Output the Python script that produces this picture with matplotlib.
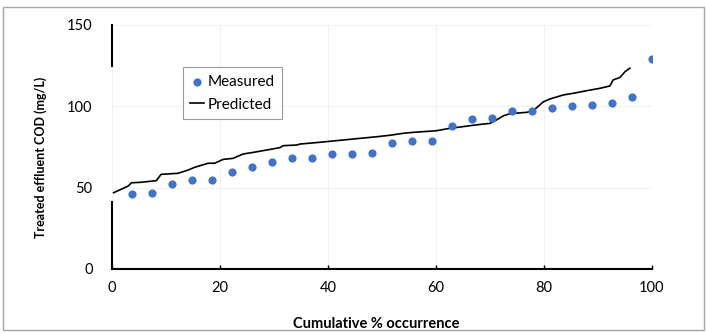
import matplotlib.pyplot as plt
from matplotlib.patches import Rectangle

# gemeten waarden (27 punten, gelijk verdeeld over 0-100 %)
measured_pct = [3.7, 7.4, 11.1, 14.8, 18.5, 22.2, 25.9, 29.6, 33.3, 37.0,
                40.7, 44.4, 48.1, 51.9, 55.6, 59.3, 63.0, 66.7, 70.4, 74.1,
                77.8, 81.5, 85.2, 88.9, 92.6, 96.3, 100.0]
measured_cod = [46, 47, 52.5, 54.5, 54.5, 59.5, 62.5, 65.5, 68.5, 68.5,
                70.5, 70.5, 71.5, 77.5, 78.5, 78.5, 88, 92, 93, 97,
                97, 99, 100, 101, 102, 106, 129]

pred_pct = [0.3, 1.7, 3.0, 3.6, 5.4, 8.2, 9.1, 12.2, 14.1, 15.3,
            17.8, 19.0, 20.6, 22.4, 24.3, 26.2, 28.6, 31.1, 31.7, 34.2,
            34.8, 38.5, 42.2, 45.9, 49.0, 51.5, 53.9, 55.8, 60.1, 62.6,
            65.0, 66.3, 68.8, 70.0, 71.2, 72.5, 73.7, 76.8, 78.0, 79.9,
            81.1, 83.6, 85.4, 87.9, 90.4, 92.2, 92.8, 94.1, 95.0, 95.9]
pred_cod = [46.9, 49.0, 51.0, 53.0, 53.3, 54.3, 58.2, 58.8, 60.8, 62.5,
            65.0, 65.0, 67.4, 68.0, 70.7, 71.7, 73.1, 74.6, 75.8, 76.2,
            76.8, 77.9, 79.1, 80.3, 81.3, 82.2, 83.4, 84.0, 85.0, 86.5,
            87.5, 88.1, 89.1, 89.5, 91.6, 94.2, 95.5, 96.3, 97.3, 102.8,
            104.5, 107.0, 108.0, 109.6, 111.1, 112.5, 116.2, 117.8, 121.3, 123.4]

xticks = [0, 20, 40, 60, 80, 100]
yticks = [0, 50, 100, 150]

plt.rcParams['font.family'] = ['Lato', 'DejaVu Sans']

fig = plt.figure(figsize=(7.07, 3.33), dpi=100)
ax = fig.add_axes([0.1584, 0.1922, 0.7638, 0.7328])

# rand rond de hele figuur
fig.patches.append(Rectangle((0.004, 0.008), 0.992, 0.972, transform=fig.transFigure,
                             fill=False, edgecolor='#a6a6a6', lw=1))

ax.scatter(measured_pct, measured_cod, s=24, color='#4472C4', zorder=3, label='Measured')
ax.plot(pred_pct, pred_cod, color='black', lw=1.2, zorder=2, label='Predicted')

ax.set_xlim(0, 100)
ax.set_ylim(0, 150)
ax.set_xticks(xticks)
ax.set_yticks(yticks)
ax.grid(True, color='#efefef', lw=0.6)
ax.set_axisbelow(True)

for s in ['top', 'right', 'left']:
    ax.spines[s].set_visible(False)
ax.spines['bottom'].set_linewidth(1.5)
# linker as is maar deels zichtbaar in het origineel
ax.axvline(0, ymin=0, ymax=41 / 150, color='black', lw=1.5, clip_on=False)
ax.axvline(0, ymin=125 / 150, ymax=1, color='black', lw=1.5, clip_on=False)

ax.tick_params(axis='x', direction='in', length=3, width=1, labelsize=10.5, pad=9)
ax.tick_params(axis='y', length=0, labelsize=10.5, pad=14)

ax.set_xlabel('Cumulative % occurrence', fontsize=10.5, fontweight='bold')
ax.set_ylabel('Treated effluent COD (mg/L)', fontsize=9, fontweight='bold')
ax.xaxis.set_label_coords(0.489, -0.197)
ax.yaxis.set_label_coords(-0.12, 0.459)

leg = ax.legend(loc='upper left', bbox_to_anchor=(0.131, 0.828), borderaxespad=0,
                fontsize=11, frameon=True, fancybox=False, edgecolor='#808080',
                handlelength=0.9, handletextpad=0.2, borderpad=0.5, labelspacing=0.6)
leg.get_frame().set_linewidth(0.8)

fig.savefig('out.png', dpi=100)
